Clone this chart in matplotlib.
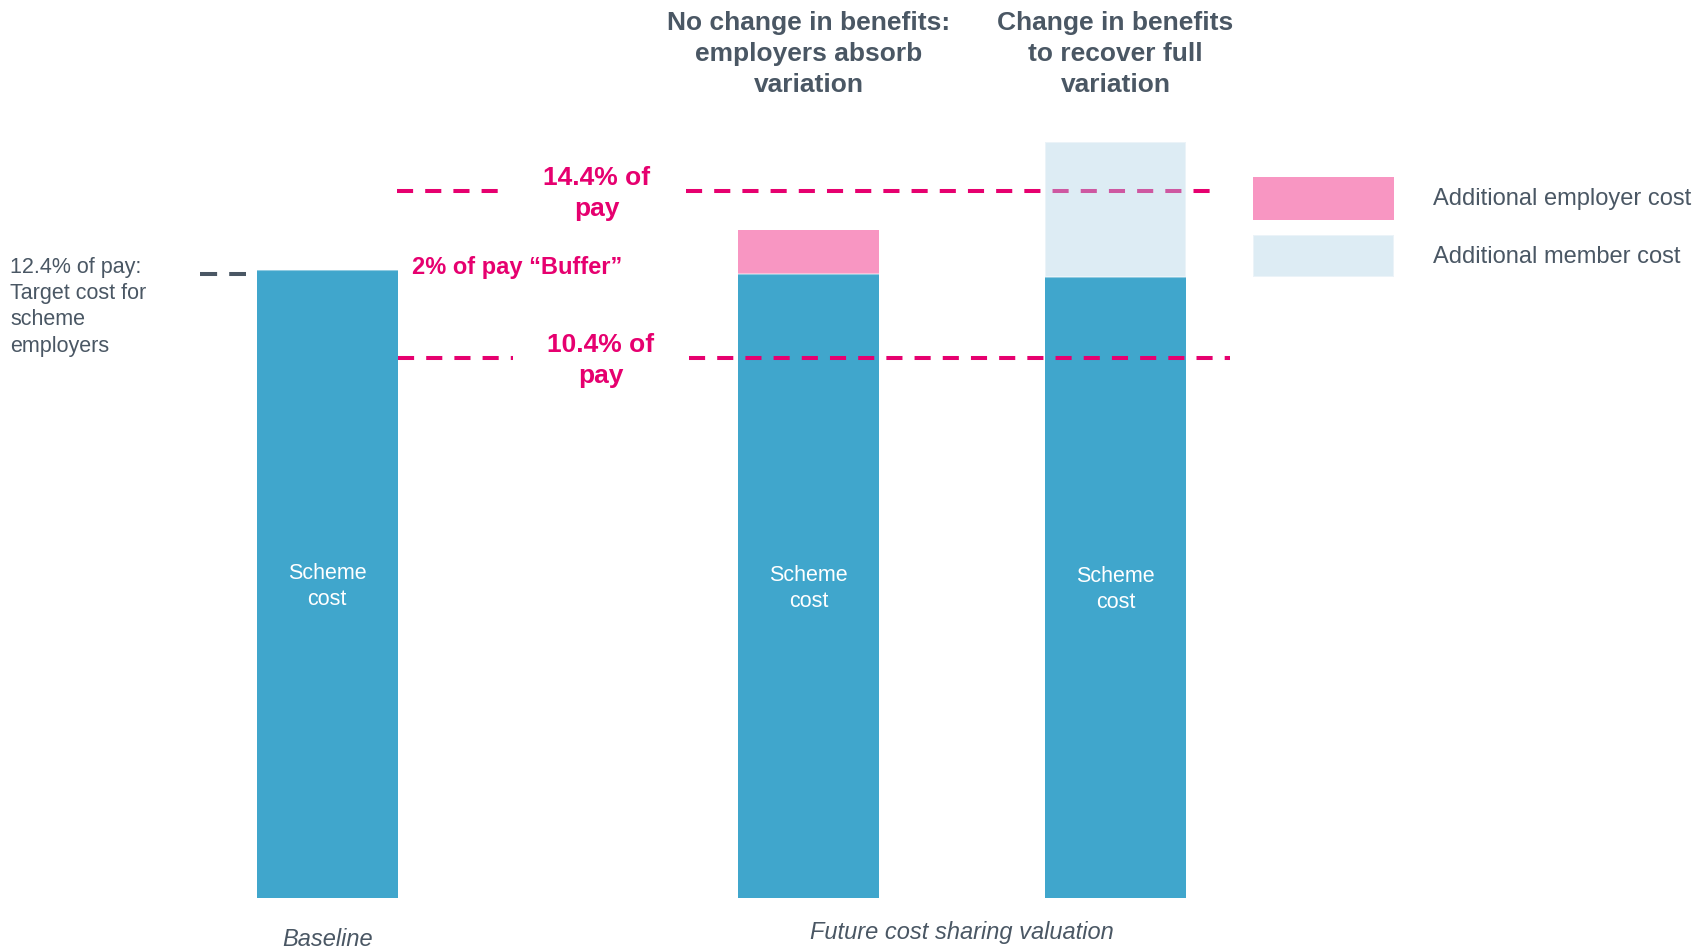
import matplotlib
matplotlib.use("Agg")
import matplotlib.pyplot as plt
import numpy as np

# Werte in % des Gehalts
categories = ["Baseline", "No change in benefits", "Change in benefits"]
scheme_cost = [12.5, 12.4, 12.35]
employer_extra = [0.0, 1.05, 0.0]
member_extra = [0.0, 0.0, 3.2]
target_cost = 12.4
ceiling = 14.4
floor_line = 10.4

headings = ["No change in benefits:\nemployers absorb\nvariation",
            "Change in benefits\nto recover full\nvariation"]
legend_labels = ["Additional employer cost", "Additional member cost"]

# Farben
BLUE = "#40A6CC"
PINK_FILL = "#F896C2"
LIGHT = "#AED4E7"
MAGENTA = "#E6006F"
SLATE = "#4A5764"

W, H = 1708, 950

plt.rcParams["font.family"] = ["Liberation Sans", "DejaVu Sans"]

fig = plt.figure(figsize=(W / 100, H / 100), dpi=100)
ax = fig.add_axes([0, 0, 1, 1])
ax.set_xlim(0, W / 100)
ax.set_ylim(-3.70, 18.94)
ax.axis("off")


def fxy(x_px, y_px):
    # Position auf der Zeichenfläche -> Figurkoordinaten
    return x_px / W, 1 - y_px / H


# Balkenlage (Mitte) und Breite, Balken beginnen am unteren Rand
xpos = np.array([3.272, 8.085, 11.155])
width = 1.41
bar_floor = -2.47

scheme = np.array(scheme_cost)
emp = np.array(employer_extra)
mem = np.array(member_extra)

ax.bar(xpos, scheme - bar_floor, bottom=bar_floor, width=width,
       color=BLUE, zorder=2)
emp_bars = ax.bar(xpos, emp, bottom=scheme, width=width, color=PINK_FILL,
                  zorder=2, label=legend_labels[0])

# gestrichelte Linien für 14.4% und 10.4%
dash_kw = dict(color=MAGENTA, lw=2.9, dashes=(4, 3), zorder=3,
               solid_capstyle="butt", dash_capstyle="butt")
for y, segs in [(ceiling, [(3.967, 5.00), (6.86, 12.19)]),
                (floor_line, [(3.98, 5.13), (6.89, 12.30)])]:
    for x0, x1 in segs:
        ax.plot([x0, x1], [y, y], **dash_kw)

# Zielkosten-Markierung links
ax.plot([2.00, 2.46], [target_cost, target_cost], color=SLATE, lw=2.9,
        dashes=(4.25, 3), dash_capstyle="butt", zorder=3)

# Mitgliederanteil halbtransparent über der Linie
mem_bars = ax.bar(xpos, mem, bottom=scheme, width=width, color=LIGHT,
                  alpha=0.42, edgecolor="white", linewidth=1.5, zorder=4,
                  label=legend_labels[1])

# Beschriftungen in den Balken
for x, top in zip(xpos, scheme):
    ax.text(x, (top + bar_floor) / 2 - 0.05, "Scheme\ncost", color="white",
            fontsize=15.5, ha="center", va="center", linespacing=1.31,
            zorder=5)

# Überschriften über den beiden Szenarien
for x, txt in zip(xpos[1:], headings):
    ax.text(x, 1 - 54 / H, txt, transform=ax.get_xaxis_transform(),
            color=SLATE, fontsize=19, fontweight="bold", ha="center",
            va="center", linespacing=1.36)

# Texte an den Linien
ax.text(*fxy(597, 193.6), f"{ceiling}% of\npay", transform=fig.transFigure,
        color=MAGENTA, fontsize=19, fontweight="bold", ha="center",
        va="center", linespacing=1.34)
ax.text(*fxy(601, 360.6), f"{floor_line}% of\npay", transform=fig.transFigure,
        color=MAGENTA, fontsize=19, fontweight="bold", ha="center",
        va="center", linespacing=1.34)
ax.text(*fxy(412, 267), "2% of pay \u201cBuffer\u201d", transform=fig.transFigure,
        color=MAGENTA, fontsize=17, fontweight="bold", ha="left", va="center")

ax.text(*fxy(10, 306.7), f"{target_cost}% of pay:\nTarget cost for\nscheme\nemployers",
        transform=fig.transFigure, color=SLATE, fontsize=15.5, ha="left",
        va="center", linespacing=1.33)

# Achsenbeschriftungen unten
ax.text(*fxy(328, 939), "Baseline", transform=fig.transFigure, color=SLATE,
        fontsize=17, style="italic", ha="center", va="center")
ax.text(*fxy(962, 932), "Future cost sharing valuation",
        transform=fig.transFigure, color=SLATE, fontsize=17, style="italic",
        ha="center", va="center")

# Legende rechts
fs = 17
px_em = fs * 100 / 72
ax.legend(handles=[emp_bars, mem_bars], loc="upper left",
          bbox_to_anchor=fxy(1253, 176.7), bbox_transform=fig.transFigure,
          frameon=False, fontsize=fs, labelcolor=SLATE, borderpad=0,
          borderaxespad=0, handlelength=141 / px_em, handleheight=57 / px_em,
          handletextpad=39 / px_em, labelspacing=15 / px_em)

plt.savefig("out.png", dpi=100)
